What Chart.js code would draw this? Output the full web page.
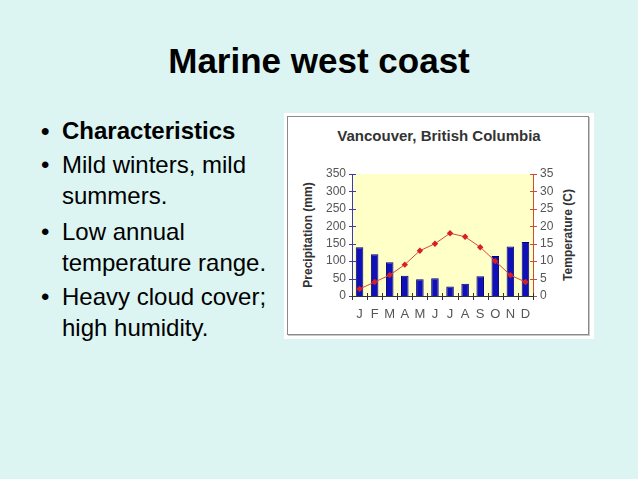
<!DOCTYPE html>
<html>
<head>
<meta charset="utf-8">
<script src="https://cdn.jsdelivr.net/npm/chart.js@4.4.0/dist/chart.umd.min.js"></script>
<style>
  html, body { margin: 0; padding: 0; }
  body {
    width: 638px; height: 479px; overflow: hidden; position: relative;
    background: #dcf5f2;
    font-family: "Liberation Sans", Arial, sans-serif;
    color: #000;
  }
  .title {
    position: absolute; left: 0; width: 638px; top: 41px;
    text-align: center; font-size: 35px; line-height: 40px; font-weight: bold;
  }
  .item { position: absolute; left: 62px; font-size: 24px; line-height: 31px; }
  .item::before { content: "\2022"; position: absolute; left: -21px; }
  .box {
    position: absolute; left: 284px; top: 113px; width: 310px; height: 226px;
    background: #fff;
  }
  .frame {
    position: absolute; left: 3px; top: 3px; width: 300px; height: 217px;
    border: 1px solid #8a8a8a; box-shadow: 1px 1px 0 #c8c8c8;
  }
  .ctitle {
    position: absolute; left: 0; width: 310px; top: 14px; text-align: center;
    font-size: 15px; font-weight: bold; color: #333; line-height: 18px;
  }
  .atitle {
    position: absolute; font-size: 12px; font-weight: bold; color: #333;
    white-space: nowrap; transform: translate(-50%, -50%) rotate(-90deg);
    line-height: 14px;
  }
  .plot { position: absolute; left: 5px; top: 5px; width: 299px; height: 216px; }
</style>
</head>
<body>
<div class="title">Marine west coast</div>
<div class="item" style="top:115px;font-weight:bold">Characteristics</div>
<div class="item" style="top:149px">Mild winters, mild<br>summers.</div>
<div class="item" style="top:216px">Low annual<br>temperature range.</div>
<div class="item" style="top:281px">Heavy cloud cover;<br>high humidity.</div>

<div class="box">
  <div class="frame"></div>
  <div class="ctitle">Vancouver, British Columbia</div>
  <div class="atitle" style="left:24px;top:122px">Precipitation (mm)</div>
  <div class="atitle" style="left:284px;top:122px">Temperature (C)</div>
  <div class="plot"><canvas id="c"></canvas></div>
</div>

<script>
const months = ['J', 'F', 'M', 'A', 'M', 'J', 'J', 'A', 'S', 'O', 'N', 'D'];
const precipitation = [140, 120, 97, 58, 48, 51, 27, 35, 57, 115, 142, 155];
const temperature = [2, 4, 6, 9, 13, 15, 18, 17, 14, 10, 6, 4];
const precipTicks = [0, 350, 50];
const tempTicks = [0, 35, 5];

// yellow plot background + tick marks crossing the axes
const plotDecor = {
  id: 'plotDecor',
  beforeDraw(chart) {
    const a = chart.chartArea, ctx = chart.ctx;
    ctx.save();
    ctx.fillStyle = '#ffffc8';
    ctx.fillRect(a.left, a.top, a.right - a.left, a.bottom - a.top);
    ctx.restore();
  },
  afterDraw(chart) {
    const a = chart.chartArea, ctx = chart.ctx;
    const s = chart.scales;
    ctx.save();
    ctx.lineWidth = 1;
    // left axis
    ctx.strokeStyle = '#3b3bb0';
    ctx.beginPath();
    ctx.moveTo(a.left + 0.5, a.top); ctx.lineTo(a.left + 0.5, a.bottom);
    s.y.ticks.forEach(t => {
      const y = Math.round(s.y.getPixelForValue(t.value)) + 0.5;
      ctx.moveTo(a.left - 3, y); ctx.lineTo(a.left + 4, y);
    });
    ctx.stroke();
    // right axis
    ctx.strokeStyle = '#d04a3a';
    ctx.beginPath();
    ctx.moveTo(a.right + 0.5, a.top); ctx.lineTo(a.right + 0.5, a.bottom);
    s.y2.ticks.forEach(t => {
      const y = Math.round(s.y2.getPixelForValue(t.value)) + 0.5;
      ctx.moveTo(a.right - 3, y); ctx.lineTo(a.right + 4, y);
    });
    ctx.stroke();
    // bottom axis
    ctx.strokeStyle = '#333';
    ctx.beginPath();
    ctx.moveTo(a.left, a.bottom + 0.5); ctx.lineTo(a.right + 1, a.bottom + 0.5);
    const step = s.x.getPixelForTick(1) - s.x.getPixelForTick(0);
    for (let i = 0; i <= months.length; i++) {
      const x = Math.round(s.x.getPixelForTick(0) - step / 2 + i * step) + 0.5;
      ctx.moveTo(x, a.bottom - 3); ctx.lineTo(x, a.bottom + 4);
    }
    ctx.stroke();
    ctx.restore();
  }
};

new Chart(document.getElementById('c'), {
  data: {
    labels: months,
    datasets: [
      {
        type: 'line',
        label: 'Temperature',
        data: temperature,
        yAxisID: 'y2',
        borderColor: '#d84a3a',
        borderWidth: 1,
        backgroundColor: '#d82020',
        pointStyle: 'rectRot',
        pointRadius: 3.2,
        pointBorderWidth: 0,
        tension: 0,
        order: 0
      },
      {
        type: 'bar',
        label: 'Precipitation',
        data: precipitation,
        yAxisID: 'y',
        backgroundColor: '#1010b8',
        borderColor: '#000070',
        borderWidth: 1,
        borderSkipped: 'bottom',
        categoryPercentage: 1,
        barPercentage: 0.5,
        order: 1
      }
    ]
  },
  options: {
    responsive: true,
    maintainAspectRatio: false,
    animation: false,
    layout: { padding: { top: 56, left: 0, right: 0, bottom: 0 } },
    plugins: { legend: { display: false }, tooltip: { enabled: false } },
    scales: {
      x: {
        offset: true,
        grid: { display: false, drawTicks: false },
        border: { display: false },
        ticks: {
          color: '#555', font: { family: 'Liberation Sans', size: 13 }, padding: 11,
          autoSkip: false, maxRotation: 0, minRotation: 0
        },
        afterFit(scale) { scale.height = 38; }
      },
      y: {
        position: 'left',
        min: precipTicks[0], max: precipTicks[1],
        ticks: { stepSize: precipTicks[2], color: '#555', font: { family: 'Liberation Sans', size: 12 }, padding: 6 },
        grid: { display: false, drawTicks: false },
        border: { display: false },
        afterFit(scale) { scale.width = 63; }
      },
      y2: {
        position: 'right',
        min: tempTicks[0], max: tempTicks[1],
        ticks: { stepSize: tempTicks[2], color: '#555', font: { family: 'Liberation Sans', size: 12 }, padding: 7 },
        grid: { display: false, drawTicks: false },
        border: { display: false },
        afterFit(scale) { scale.width = 55; }
      }
    }
  },
  plugins: [plotDecor]
});
</script>
</body>
</html>
